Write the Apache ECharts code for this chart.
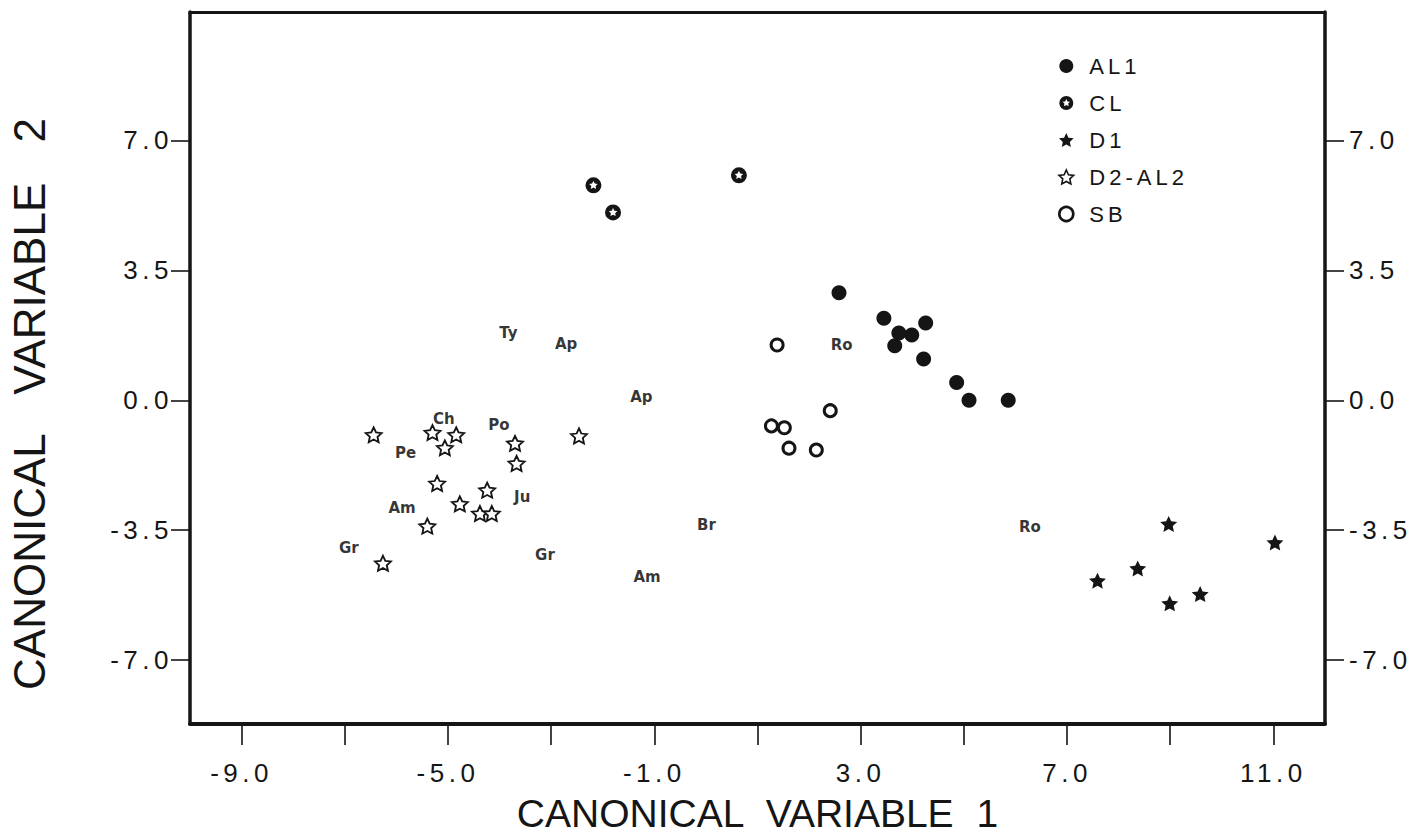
<!DOCTYPE html>
<html>
<head>
<meta charset="utf-8">
<script src="https://cdn.jsdelivr.net/npm/echarts@6/dist/echarts.min.js"></script>
<style>
html,body{margin:0;padding:0;background:#fff;}
#chart{width:1426px;height:834px;}
#chart text[style*="Arimo"], #chart text[font-family*="Arimo"]{letter-spacing:4.5px;}
#chart text[style*="Helvetica"], #chart text[font-family*="Helvetica"]{letter-spacing:4px;}
#chart text[style*="Nimbus"], #chart text[font-family*="Nimbus"]{word-spacing:12px;}
#chart text[style*="FreeSans"], #chart text[font-family*="FreeSans"]{word-spacing:28px;}
</style>
</head>
<body>
<div id="chart"></div>
<script>
// ---- data ----
const seriesNames = ['AL1', 'CL', 'D1', 'D2-AL2', 'SB'];

const al1X = [2.58, 3.45, 3.74, 3.99, 4.26, 3.66, 4.22, 4.86, 5.10, 5.86];
const al1Y = [2.90, 2.21, 1.81, 1.76, 2.08, 1.47, 1.11, 0.48, 0.00, 0.00];

const clX = [-2.18, -1.80, 0.64];
const clY = [5.79, 5.06, 6.06];

const d1X = [8.97, 11.03, 8.37, 7.59, 9.58, 8.99];
const d1Y = [-3.33, -3.83, -4.53, -4.86, -5.22, -5.47];

const d2X = [-6.44, -5.30, -4.84, -5.06, -3.70, -3.67, -2.46, -5.21, -4.24, -4.77, -4.38, -4.15, -5.40, -6.26];
const d2Y = [-0.93, -0.87, -0.93, -1.28, -1.16, -1.70, -0.96, -2.24, -2.42, -2.79, -3.05, -3.05, -3.39, -4.39];

const sbX = [1.38, 2.41, 1.27, 1.52, 1.61, 2.14];
const sbY = [1.49, -0.28, -0.69, -0.74, -1.29, -1.34];

const noteText = ['Ty', 'Ap', 'Ap', 'Ch', 'Po', 'Pe', 'Ju', 'Am', 'Gr', 'Gr', 'Am', 'Br', 'Ro', 'Ro'];
const noteX = [-3.83, -2.71, -1.25, -5.08, -4.01, -5.82, -3.56, -5.89, -6.92, -3.12, -1.14, 0.01, 2.63, 6.28];
const noteY = [1.82, 1.52, 0.09, -0.50, -0.66, -1.42, -2.61, -2.90, -3.98, -4.17, -4.76, -3.36, 1.49, -3.41];

const xTickValues = [-9, -7, -5, -3, -1, 1, 3, 5, 7, 9, 11];
const xLabelValues = [-9, -5, -1, 3, 7, 11];
const yTickValues = [-7, -3.5, 0, 3.5, 7];

const xTitle = 'CANONICAL VARIABLE 1';
const yTitle = 'CANONICAL VARIABLE 2';

// ---- helpers ----
const zip = (xs, ys) => xs.map((x, i) => [x, ys[i]]);
const STAR = 'path://M50,0L64.11,30.58L97.55,34.55L72.83,57.42L79.39,90.45L50,74L20.61,90.45L27.17,57.42L2.45,34.55L35.89,30.58Z';
const RING_STAR = 'path://M50,0A50,50 0 1,1 50,100A50,50 0 1,1 50,0Z' +
  'M50,22L41.77,38.67L23.37,41.35L36.68,54.33L33.54,72.65L50,64L66.46,72.65L63.32,54.33L76.63,41.35L58.23,38.67Z';
const INK = '#151515';
const TICK_FONT = '"Liberation Sans", Arimo, sans-serif';
const LEG_FONT = '"Liberation Sans", Helvetica, sans-serif';
const XT_FONT = '"Liberation Sans", "Nimbus Sans", sans-serif';
const YT_FONT = '"Liberation Sans", FreeSans, sans-serif';

const chart = echarts.init(document.getElementById('chart'), null, {renderer: 'svg'});

const yAxisBase = {
  type: 'value', min: -8.72, max: 10.46,
  splitLine: {show: false},
  axisLine: {show: true, onZero: false, lineStyle: {color: INK, width: 3.5}},
  axisTick: {show: true, inside: false, length: 19, customValues: yTickValues, lineStyle: {color: INK, width: 1.6}},
  axisLabel: {show: true, customValues: yTickValues, formatter: v => v.toFixed(1), fontFamily: TICK_FONT, fontSize: 26, color: INK}
};

const option = {
  backgroundColor: '#ffffff',
  animation: false,
  grid: {left: 190, right: 101, top: 12, bottom: 110, containLabel: false, outerBoundsMode: 'none'},
  legend: {
    data: [
      {name: 'AL1'},
      {name: 'CL'},
      {name: 'D1'},
      {name: 'D2-AL2', itemStyle: {borderWidth: 1.6}},
      {name: 'SB', itemStyle: {borderWidth: 2.6}}
    ],
    orient: 'vertical',
    left: 1053, top: 50,
    itemWidth: 36, itemHeight: 14, itemGap: 15,
    textStyle: {fontFamily: LEG_FONT, fontSize: 22, color: INK, lineHeight: 21},
    selectedMode: false
  },
  xAxis: [{
    type: 'value', position: 'bottom', min: -10, max: 12,
    name: xTitle, nameLocation: 'middle', nameGap: 70,
    nameTextStyle: {fontFamily: XT_FONT, fontSize: 39, lineHeight: 39, color: INK},
    splitLine: {show: false},
    axisLine: {show: true, onZero: false, lineStyle: {color: INK, width: 4}},
    axisTick: {show: true, inside: false, length: 21, customValues: xTickValues, lineStyle: {color: INK, width: 1.6}},
    axisLabel: {show: true, margin: 36, customValues: xLabelValues, formatter: v => v.toFixed(1), fontFamily: TICK_FONT, fontSize: 26, color: INK}
  }, {
    type: 'value', position: 'top', min: -10, max: 12,
    splitLine: {show: false},
    axisLine: {show: true, onZero: false, lineStyle: {color: INK, width: 3}},
    axisTick: {show: false}, axisLabel: {show: false}
  }],
  yAxis: [
    Object.assign({}, yAxisBase, {
      position: 'left',
      name: yTitle, nameLocation: 'middle', nameGap: 139, nameRotate: 90,
      nameTextStyle: {fontFamily: YT_FONT, fontSize: 44, color: INK, padding: [0, 72, 0, 0]},
      axisLabel: Object.assign({}, yAxisBase.axisLabel, {margin: 17})
    }),
    Object.assign({}, yAxisBase, {
      position: 'right',
      axisLabel: Object.assign({}, yAxisBase.axisLabel, {margin: 24})
    })
  ],
  series: [
    {
      name: 'AL1', type: 'scatter', xAxisIndex: 0, yAxisIndex: 0,
      symbol: 'circle', symbolSize: 15,
      itemStyle: {color: INK, opacity: 1},
      data: zip(al1X, al1Y)
    },
    {
      name: 'CL', type: 'scatter', xAxisIndex: 0, yAxisIndex: 0,
      symbol: RING_STAR, symbolSize: 16,
      itemStyle: {color: INK, opacity: 1},
      data: zip(clX, clY)
    },
    {
      name: 'D1', type: 'scatter', xAxisIndex: 0, yAxisIndex: 0,
      symbol: STAR, symbolSize: [17, 16],
      itemStyle: {color: INK, opacity: 1},
      data: zip(d1X, d1Y)
    },
    {
      name: 'D2-AL2', type: 'scatter', xAxisIndex: 0, yAxisIndex: 0,
      symbol: STAR, symbolSize: [16, 15],
      itemStyle: {color: '#ffffff', borderColor: INK, borderWidth: 1.8, opacity: 1},
      data: zip(d2X, d2Y)
    },
    {
      name: 'SB', type: 'scatter', xAxisIndex: 0, yAxisIndex: 0,
      symbol: 'circle', symbolSize: 12,
      itemStyle: {color: '#ffffff', borderColor: INK, borderWidth: 3, opacity: 1},
      data: zip(sbX, sbY)
    },
    {
      name: 'notes', type: 'scatter', xAxisIndex: 0, yAxisIndex: 0,
      symbol: 'circle', symbolSize: 1, silent: true,
      itemStyle: {color: 'rgba(0,0,0,0)'},
      label: {show: true, position: 'inside', formatter: p => p.name,
        fontFamily: '"DejaVu Sans", sans-serif', fontSize: 15, fontWeight: 'bold',
        color: '#000', textBorderWidth: 0},
      data: noteText.map((t, i) => ({name: t, value: [noteX[i], noteY[i]]}))
    }
  ]
};
chart.setOption(option);
</script>
</body>
</html>
